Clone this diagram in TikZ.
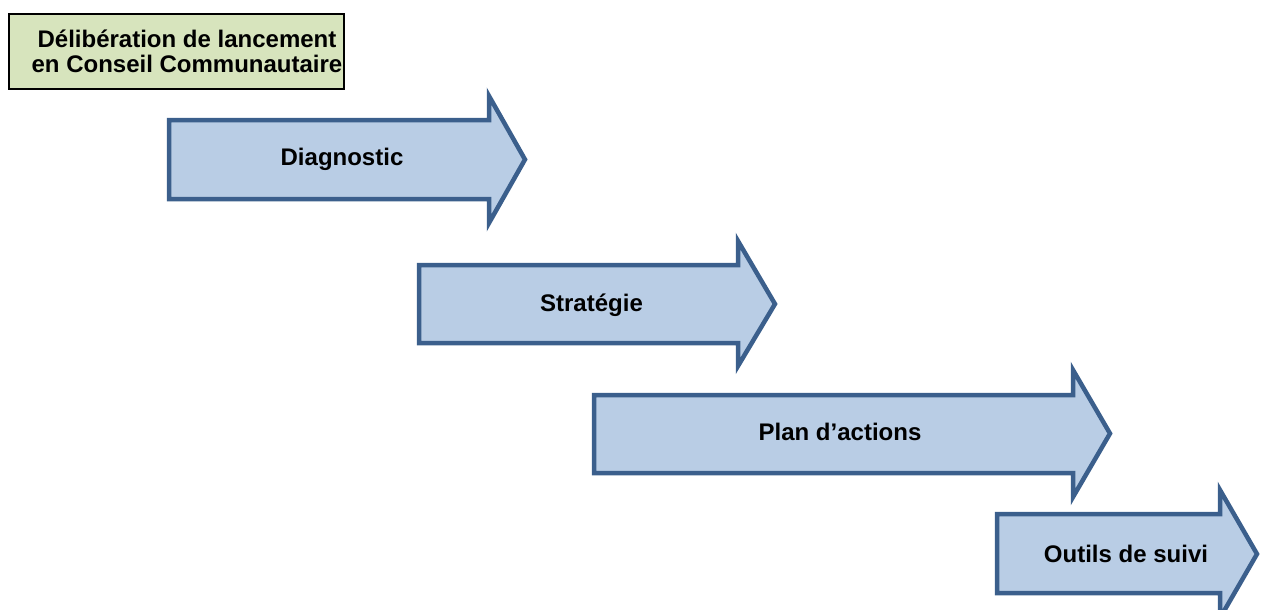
\documentclass[tikz,border=0pt]{standalone}
\usepackage{fontspec}
\setmainfont{Liberation Sans}
\usepackage{tikz}
\usepackage{xcolor}
\definecolor{phasefill}{HTML}{B9CDE5}
\definecolor{phaseline}{HTML}{3B5F8C}
\definecolor{launchfill}{HTML}{D7E4BD}
\tikzset{
  phase/.style={draw=phaseline, fill=phasefill, line width=4.5pt, line join=miter},
  phaselabel/.style={anchor=base, inner sep=0pt, font=\fontsize{24}{25}\selectfont\bfseries},
}

\begin{document}
\begin{tikzpicture}[x=1pt, y=-1pt]
				    		\useasboundingbox (0, 0) rectangle (1262, 610);
				    		\clip (0, 0) rectangle (1262, 610);
				    		\draw[black, line width=2pt, fill=launchfill] (9, 14) rectangle (344, 89);
				    		\node[phaselabel, anchor=center, align=center] (launch) at (187, 51.5) {Délibération de lancement\\en Conseil Communautaire};
				    		\draw[phase] (169, 120)--(489, 120)--(489, 96)--(525, 159.5)--(489, 223)--(489, 199)--(169, 199)--cycle;
				    		\node[phaselabel] (diagnostic) at (342, 165) {Diagnostic};
				    		\draw[phase] (419, 265)--(738, 265)--(738, 241)--(775, 304)--(738, 366)--(738, 343)--(419, 343)--cycle;
				    		\node[phaselabel] (strategie) at (591.5, 311) {Stratégie};
				    		\draw[phase] (594, 395)--(1073, 395)--(1073, 370)--(1110, 433.5)--(1073, 497)--(1073, 473)--(594, 473)--cycle;
				    		\node[phaselabel] (actions) at (840, 440) {Plan d’actions};
				    		\draw[phase] (997, 514)--(1220, 514)--(1220, 490)--(1257, 554)--(1220, 618)--(1220, 593)--(997, 593)--cycle;
				    		\node[phaselabel] (suivi) at (1126, 562) {Outils de suivi};
						\end{tikzpicture}
\end{document}
